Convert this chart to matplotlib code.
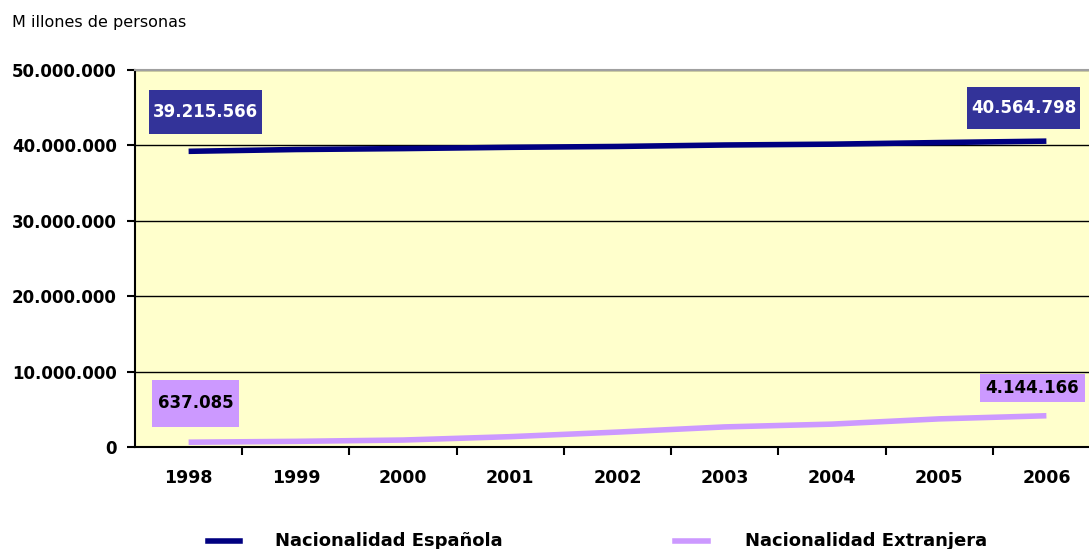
import matplotlib
matplotlib.use("Agg")
import matplotlib.pyplot as plt
from matplotlib.lines import Line2D
from matplotlib.ticker import FuncFormatter, MultipleLocator

# datos (padrón, personas)
anios = ["1998", "1999", "2000", "2001", "2002", "2003", "2004", "2005", "2006"]
espanola = [39215566, 39453206, 39575912, 39746185, 39859948, 40052896, 40163358, 40377920, 40564798]
extranjera = [637085, 748954, 923879, 1370657, 1977946, 2664168, 3034326, 3730610, 4144166]

c_esp = "#000080"
c_ext = "#CC99FF"
fuente = "DejaVu Sans"

fig = plt.figure(figsize=(10.89, 5.49), dpi=100)
ax = fig.add_axes([135 / 1089, 1 - 447 / 549, 965 / 1089, 377 / 549])
ax.set_facecolor("#FFFFCC")

x = list(range(len(anios)))
ax.plot(x, espanola, color=c_esp, lw=4, solid_capstyle="butt")
ax.plot(x, extranjera, color=c_ext, lw=4, solid_capstyle="butt")

ax.set_xlim(-0.5, len(anios) - 0.5)
ax.set_ylim(0, 50000000)
ax.yaxis.set_major_locator(MultipleLocator(10000000))
ax.yaxis.set_major_formatter(FuncFormatter(lambda v, p: f"{int(v):,}".replace(",", ".")))
ax.grid(axis="y", color="black", lw=1)
ax.set_axisbelow(True)

ax.set_xticks(x)
ax.set_xticklabels(anios)
ax.set_xticks([i + 0.5 for i in x[:-1]], minor=True)
ax.tick_params(axis="x", which="major", length=0, pad=16)
ax.tick_params(axis="x", which="minor", length=6, width=1.5, direction="out")
ax.tick_params(axis="y", length=6, width=1.5, direction="out", pad=7)
for lab in ax.get_xticklabels():
    lab.set_fontfamily(fuente)
    lab.set_fontweight("bold")
    lab.set_fontsize(12.5)
for lab in ax.get_yticklabels():
    lab.set_fontfamily(fuente)
    lab.set_fontweight("bold")
    lab.set_fontsize(12)

ax.spines["left"].set_linewidth(1.5)
ax.spines["bottom"].set_linewidth(1.5)
ax.spines["right"].set_visible(False)
ax.spines["top"].set_color("#A0A0A0")
ax.spines["top"].set_linewidth(1.5)

# etiquetas de primer y último valor
def fmt(v):
    return f"{v:,}".replace(",", ".")

def etiqueta(i, serie, dx, dy, color_txt, color_caja, pad, asp):
    ax.annotate(fmt(serie[i]), (x[i], serie[i]), xytext=(dx, dy), textcoords="offset pixels",
                color=color_txt, fontsize=12, fontweight="bold", fontfamily=fuente,
                ha="center", va="center",
                bbox=dict(boxstyle=f"square,pad={pad}", lw=0, fc=color_caja, mutation_aspect=asp))

etiqueta(0, espanola, 17, 39, "white", "#333399", 0.25, 3.1)
etiqueta(-1, espanola, -23, 33, "white", "#333399", 0.25, 2.9)
etiqueta(0, extranjera, 7, 39, "black", c_ext, 0.35, 2.5)
etiqueta(-1, extranjera, -14, 28, "black", c_ext, 0.35, 0.9)

fig.text(12 / 1089, 1 - 22 / 549, "M illones de personas", fontsize=11.5, fontfamily="DejaVu Sans",
         va="center", ha="left")

# leyenda
yl = 1 - 541 / 549
fig.add_artist(Line2D([208 / 1089, 240 / 1089], [yl, yl], color=c_esp, lw=4))
fig.text(275 / 1089, yl, "Nacionalidad Española", fontsize=13, fontweight="bold", fontfamily=fuente,
         va="center", ha="left")
fig.add_artist(Line2D([675 / 1089, 708 / 1089], [yl, yl], color=c_ext, lw=4))
fig.text(745 / 1089, yl, "Nacionalidad Extranjera", fontsize=13, fontweight="bold", fontfamily=fuente,
         va="center", ha="left")

fig.savefig("out.png", dpi=100)
